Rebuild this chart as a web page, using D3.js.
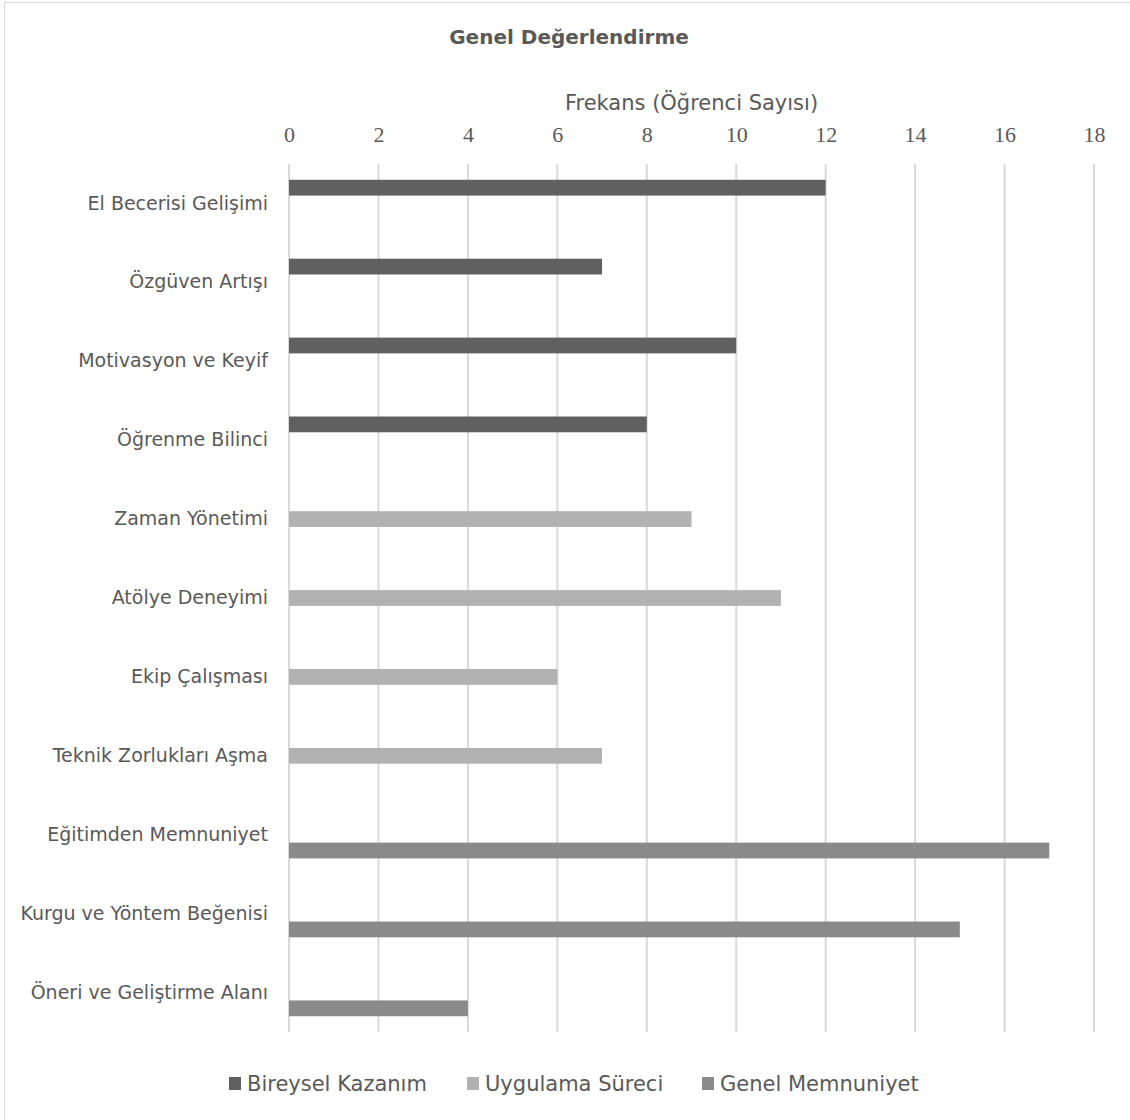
<!DOCTYPE html>
<html><head><meta charset="utf-8">
<script src="https://cdn.jsdelivr.net/npm/d3@7"></script>
<style>body{margin:0;background:#fff;} svg{display:block;}</style>
</head><body>
<script>
const categories = ["El Becerisi Gelişimi","Özgüven Artışı","Motivasyon ve Keyif","Öğrenme Bilinci","Zaman Yönetimi","Atölye Deneyimi","Ekip Çalışması","Teknik Zorlukları Aşma","Eğitimden Memnuniyet","Kurgu ve Yöntem Beğenisi","Öneri ve Geliştirme Alanı"];
const seriesNames = ["Bireysel Kazanım","Uygulama Süreci","Genel Memnuniyet"];
const bireysel = [12,7,10,8,null,null,null,null,null,null,null];
const uygulama = [null,null,null,null,9,11,6,7,null,null,null];
const genel = [null,null,null,null,null,null,null,null,17,15,4];
const xTicks = [0,2,4,6,8,10,12,14,16,18];
const title = "Genel Değerlendirme";
const axisTitle = "Frekans (Öğrenci Sayısı)";
const colors = ["#606060","#b2b2b2","#8a8a8a"];

const W=1130,H=1120;
const svg=d3.select("body").append("svg").attr("width",W).attr("height",H);
svg.append("rect").attr("x",4.5).attr("y",2.5).attr("width",W+20).attr("height",H+20).attr("fill","#fff").attr("stroke","#d9d9d9").attr("stroke-width",1);

const x=d3.scaleLinear().domain([0,18]).range([289,1094]);
const y=d3.scaleBand().domain(categories).range([164,1032]).paddingInner(0).paddingOuter(0);
const h=y.bandwidth()/5;
const sf="'DejaVu Sans',sans-serif";
const txt="#595959";

svg.append("text").attr("x",569).attr("y",44).attr("text-anchor","middle").attr("font-family",sf).attr("font-weight","bold").attr("font-size",20).attr("fill",txt).text(title);
svg.append("text").attr("x",(x(0)+x(18))/2).attr("y",110).attr("text-anchor","middle").attr("font-family",sf).attr("font-size",21).attr("fill",txt).text(axisTitle);

// gridlines
svg.append("g").selectAll("line").data(xTicks).join("line")
 .attr("x1",d=>x(d)).attr("x2",d=>x(d)).attr("y1",164).attr("y2",1032)
 .attr("stroke","#d9d9d9").attr("stroke-width",2);

// top axis labels
const ax=d3.axisTop(x).tickValues(xTicks).tickSize(0).tickPadding(0);
const gA=svg.append("g").attr("transform","translate(0,142)").call(ax);
gA.select(".domain").remove();
gA.selectAll("text").attr("font-family","'Liberation Serif',serif").attr("font-size",22).attr("fill",txt).attr("dy",0);

// category labels
const ay=d3.axisLeft(y).tickSize(0).tickPadding(0);
const gY=svg.append("g").attr("transform","translate(268,0)").call(ay);
gY.select(".domain").remove();
gY.selectAll("text").attr("font-family",sf).attr("font-size",19).attr("fill",txt);

const seriesData=[bireysel,uygulama,genel];
seriesData.forEach((vals,si)=>{
  svg.append("g").selectAll("rect").data(categories.map((c,i)=>({c,v:vals[i]})).filter(d=>d.v!=null)).join("rect")
   .attr("x",x(0)).attr("y",d=>y(d.c)+h*(1+si)).attr("width",d=>x(d.v)-x(0)).attr("height",h)
   .attr("fill",colors[si]);
});

// legend
const legX=[229,467,702];
const lg=svg.append("g");
seriesNames.forEach((n,i)=>{
  lg.append("rect").attr("x",legX[i]).attr("y",1077).attr("width",12).attr("height",13).attr("fill",colors[i]);
  lg.append("text").attr("x",legX[i]+18).attr("y",1091).attr("font-family",sf).attr("font-size",21).attr("fill",txt).text(n);
});
</script>
</body></html>
